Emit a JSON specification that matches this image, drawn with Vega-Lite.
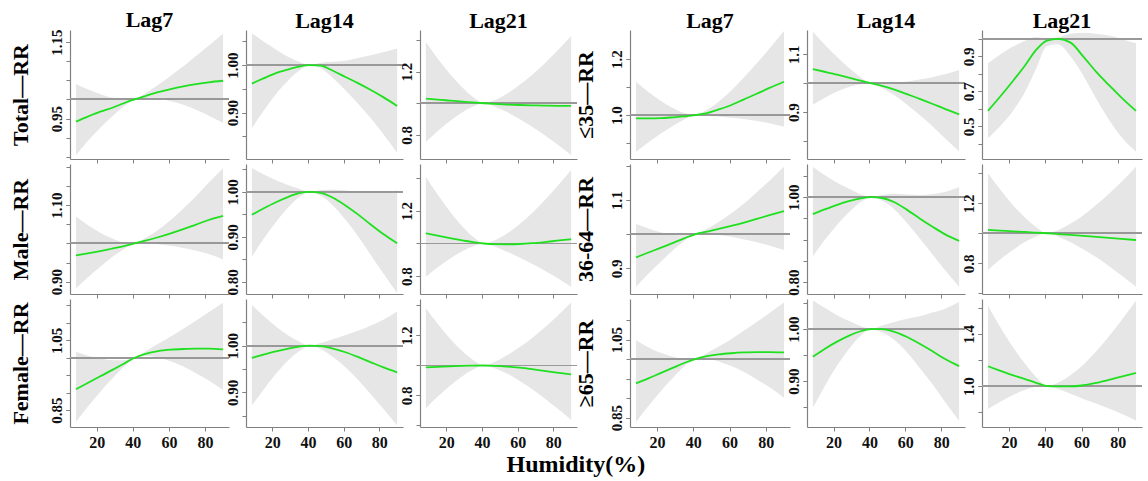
{
"$schema": "https://vega.github.io/schema/vega-lite/v6.json",
"padding": {"left": 8, "top": 9, "right": 0, "bottom": 0},
"data": {"values": [
{"p":1,"x":8.5,"r":0.942,"l":0.854,"h":1.040},{"p":1,"x":15,"r":0.955,"l":0.891,"h":1.027},{"p":1,"x":22,"r":0.968,"l":0.926,"h":1.014},{"p":1,"x":29,"r":0.979,"l":0.957,"h":1.003},{"p":1,"x":35,"r":0.990,"l":0.982,"h":0.999},{"p":1,"x":41,"r":1,"l":1,"h":1},{"p":1,"x":47,"r":1.009,"l":1.003,"h":1.016},{"p":1,"x":54,"r":1.019,"l":1.002,"h":1.038},{"p":1,"x":61,"r":1.027,"l":0.995,"h":1.062},{"p":1,"x":68,"r":1.034,"l":0.986,"h":1.087},{"p":1,"x":75,"r":1.040,"l":0.973,"h":1.114},{"p":1,"x":82,"r":1.045,"l":0.958,"h":1.141},{"p":1,"x":90,"r":1.049,"l":0.938,"h":1.172},
{"p":2,"x":8.5,"r":0.961,"l":0.867,"h":1.067},{"p":2,"x":15,"r":0.972,"l":0.903,"h":1.050},{"p":2,"x":22,"r":0.983,"l":0.939,"h":1.033},{"p":2,"x":29,"r":0.991,"l":0.968,"h":1.017},{"p":2,"x":35,"r":0.997,"l":0.988,"h":1.007},{"p":2,"x":41,"r":1,"l":1,"h":1},{"p":2,"x":47,"r":0.999,"l":0.994,"h":1.005},{"p":2,"x":54,"r":0.988,"l":0.973,"h":1.007},{"p":2,"x":61,"r":0.975,"l":0.947,"h":1.009},{"p":2,"x":68,"r":0.962,"l":0.919,"h":1.015},{"p":2,"x":75,"r":0.948,"l":0.889,"h":1.021},{"p":2,"x":82,"r":0.933,"l":0.856,"h":1.027},{"p":2,"x":90,"r":0.914,"l":0.815,"h":1.035},
{"p":3,"x":8.5,"r":1.030,"l":0.755,"h":1.388},{"p":3,"x":15,"r":1.023,"l":0.822,"h":1.285},{"p":3,"x":22,"r":1.017,"l":0.887,"h":1.186},{"p":3,"x":29,"r":1.011,"l":0.943,"h":1.100},{"p":3,"x":35,"r":1.005,"l":0.979,"h":1.039},{"p":3,"x":41,"r":1,"l":1,"h":1},{"p":3,"x":47,"r":0.996,"l":0.980,"h":1.019},{"p":3,"x":54,"r":0.992,"l":0.944,"h":1.061},{"p":3,"x":61,"r":0.989,"l":0.901,"h":1.115},{"p":3,"x":68,"r":0.987,"l":0.852,"h":1.179},{"p":3,"x":75,"r":0.985,"l":0.799,"h":1.251},{"p":3,"x":82,"r":0.984,"l":0.742,"h":1.330},{"p":3,"x":90,"r":0.983,"l":0.673,"h":1.426},
{"p":4,"x":8.5,"r":0.988,"l":0.869,"h":1.119},{"p":4,"x":15,"r":0.988,"l":0.901,"h":1.084},{"p":4,"x":22,"r":0.989,"l":0.933,"h":1.051},{"p":4,"x":29,"r":0.992,"l":0.962,"h":1.024},{"p":4,"x":35,"r":0.995,"l":0.984,"h":1.007},{"p":4,"x":41,"r":1,"l":1,"h":1},{"p":4,"x":47,"r":1.006,"l":0.997,"h":1.016},{"p":4,"x":54,"r":1.020,"l":0.995,"h":1.048},{"p":4,"x":61,"r":1.036,"l":0.990,"h":1.088},{"p":4,"x":68,"r":1.056,"l":0.986,"h":1.135},{"p":4,"x":75,"r":1.076,"l":0.979,"h":1.185},{"p":4,"x":82,"r":1.097,"l":0.971,"h":1.238},{"p":4,"x":90,"r":1.119,"l":0.958,"h":1.300},
{"p":5,"x":8.5,"r":1.049,"l":0.925,"h":1.179},{"p":5,"x":15,"r":1.040,"l":0.949,"h":1.135},{"p":5,"x":22,"r":1.030,"l":0.971,"h":1.091},{"p":5,"x":29,"r":1.019,"l":0.988,"h":1.051},{"p":5,"x":35,"r":1.009,"l":0.997,"h":1.021},{"p":5,"x":41,"r":1,"l":1,"h":1},{"p":5,"x":47,"r":0.991,"l":0.984,"h":0.999},{"p":5,"x":54,"r":0.978,"l":0.958,"h":1.002},{"p":5,"x":61,"r":0.962,"l":0.925,"h":1.006},{"p":5,"x":68,"r":0.946,"l":0.890,"h":1.013},{"p":5,"x":75,"r":0.929,"l":0.852,"h":1.021},{"p":5,"x":82,"r":0.911,"l":0.810,"h":1.031},{"p":5,"x":90,"r":0.892,"l":0.763,"h":1.046},
{"p":6,"x":8.5,"r":0.589,"l":0.433,"h":0.861},{"p":6,"x":15,"r":0.668,"l":0.500,"h":0.910},{"p":6,"x":22,"r":0.757,"l":0.585,"h":0.955},{"p":6,"x":29,"r":0.850,"l":0.700,"h":0.990},{"p":6,"x":35,"r":0.937,"l":0.830,"h":1.010},{"p":6,"x":41,"r":0.990,"l":0.960,"h":1.005},{"p":6,"x":47,"r":1.0,"l":0.970,"h":1.010},{"p":6,"x":54,"r":0.979,"l":0.900,"h":1.030},{"p":6,"x":61,"r":0.899,"l":0.790,"h":1.035},{"p":6,"x":68,"r":0.813,"l":0.660,"h":1.030},{"p":6,"x":75,"r":0.737,"l":0.540,"h":1.020},{"p":6,"x":82,"r":0.665,"l":0.440,"h":1.000},{"p":6,"x":90,"r":0.589,"l":0.356,"h":0.975},
{"p":7,"x":8.5,"r":0.969,"l":0.883,"h":1.070},{"p":7,"x":15,"r":0.974,"l":0.911,"h":1.048},{"p":7,"x":22,"r":0.980,"l":0.939,"h":1.028},{"p":7,"x":29,"r":0.987,"l":0.966,"h":1.012},{"p":7,"x":35,"r":0.993,"l":0.985,"h":1.002},{"p":7,"x":41,"r":1,"l":1,"h":1},{"p":7,"x":47,"r":1.007,"l":1.001,"h":1.014},{"p":7,"x":54,"r":1.016,"l":0.998,"h":1.035},{"p":7,"x":61,"r":1.026,"l":0.994,"h":1.061},{"p":7,"x":68,"r":1.037,"l":0.988,"h":1.091},{"p":7,"x":75,"r":1.049,"l":0.981,"h":1.123},{"p":7,"x":82,"r":1.061,"l":0.972,"h":1.158},{"p":7,"x":90,"r":1.072,"l":0.958,"h":1.196},
{"p":8,"x":8.5,"r":0.949,"l":0.856,"h":1.053},{"p":8,"x":15,"r":0.963,"l":0.895,"h":1.039},{"p":8,"x":22,"r":0.977,"l":0.933,"h":1.026},{"p":8,"x":29,"r":0.989,"l":0.966,"h":1.015},{"p":8,"x":35,"r":0.997,"l":0.988,"h":1.007},{"p":8,"x":41,"r":1,"l":1,"h":1},{"p":8,"x":47,"r":0.998,"l":0.992,"h":1.004},{"p":8,"x":54,"r":0.987,"l":0.970,"h":1.005},{"p":8,"x":61,"r":0.970,"l":0.938,"h":1.003},{"p":8,"x":68,"r":0.950,"l":0.902,"h":1.001},{"p":8,"x":75,"r":0.928,"l":0.861,"h":0.998},{"p":8,"x":82,"r":0.907,"l":0.820,"h":0.998},{"p":8,"x":90,"r":0.886,"l":0.775,"h":1.003},
{"p":9,"x":8.5,"r":1.063,"l":0.796,"h":1.410},{"p":9,"x":15,"r":1.048,"l":0.853,"h":1.302},{"p":9,"x":22,"r":1.033,"l":0.907,"h":1.197},{"p":9,"x":29,"r":1.019,"l":0.953,"h":1.105},{"p":9,"x":35,"r":1.008,"l":0.983,"h":1.041},{"p":9,"x":41,"r":1,"l":1,"h":1},{"p":9,"x":47,"r":0.996,"l":0.981,"h":1.019},{"p":9,"x":54,"r":0.995,"l":0.950,"h":1.061},{"p":9,"x":61,"r":0.997,"l":0.914,"h":1.118},{"p":9,"x":68,"r":1.002,"l":0.876,"h":1.186},{"p":9,"x":75,"r":1.009,"l":0.834,"h":1.264},{"p":9,"x":82,"r":1.017,"l":0.790,"h":1.349},{"p":9,"x":90,"r":1.026,"l":0.735,"h":1.451},
{"p":10,"x":8.5,"r":0.932,"l":0.846,"h":1.030},{"p":10,"x":15,"r":0.946,"l":0.883,"h":1.018},{"p":10,"x":22,"r":0.960,"l":0.919,"h":1.006},{"p":10,"x":29,"r":0.975,"l":0.954,"h":0.999},{"p":10,"x":35,"r":0.988,"l":0.980,"h":0.997},{"p":10,"x":41,"r":1,"l":1,"h":1},{"p":10,"x":47,"r":1.007,"l":1.001,"h":1.014},{"p":10,"x":54,"r":1.016,"l":0.998,"h":1.036},{"p":10,"x":61,"r":1.025,"l":0.993,"h":1.062},{"p":10,"x":68,"r":1.034,"l":0.985,"h":1.090},{"p":10,"x":75,"r":1.045,"l":0.977,"h":1.123},{"p":10,"x":82,"r":1.056,"l":0.967,"h":1.157},{"p":10,"x":90,"r":1.068,"l":0.954,"h":1.198},
{"p":11,"x":8.5,"r":0.960,"l":0.861,"h":1.071},{"p":11,"x":15,"r":0.971,"l":0.899,"h":1.052},{"p":11,"x":22,"r":0.982,"l":0.935,"h":1.034},{"p":11,"x":29,"r":0.991,"l":0.966,"h":1.019},{"p":11,"x":35,"r":0.997,"l":0.988,"h":1.007},{"p":11,"x":41,"r":1,"l":1,"h":1},{"p":11,"x":47,"r":0.998,"l":0.992,"h":1.005},{"p":11,"x":54,"r":0.988,"l":0.971,"h":1.008},{"p":11,"x":61,"r":0.970,"l":0.939,"h":1.006},{"p":11,"x":68,"r":0.950,"l":0.903,"h":1.005},{"p":11,"x":75,"r":0.931,"l":0.866,"h":1.007},{"p":11,"x":82,"r":0.913,"l":0.829,"h":1.012},{"p":11,"x":90,"r":0.897,"l":0.789,"h":1.024},
{"p":12,"x":8.5,"r":1.022,"l":0.755,"h":1.400},{"p":12,"x":15,"r":1.018,"l":0.823,"h":1.295},{"p":12,"x":22,"r":1.013,"l":0.887,"h":1.191},{"p":12,"x":29,"r":1.009,"l":0.943,"h":1.103},{"p":12,"x":35,"r":1.004,"l":0.979,"h":1.040},{"p":12,"x":41,"r":1,"l":1,"h":1},{"p":12,"x":47,"r":0.995,"l":0.979,"h":1.021},{"p":12,"x":54,"r":0.989,"l":0.940,"h":1.065},{"p":12,"x":61,"r":0.982,"l":0.893,"h":1.121},{"p":12,"x":68,"r":0.976,"l":0.841,"h":1.188},{"p":12,"x":75,"r":0.969,"l":0.782,"h":1.262},{"p":12,"x":82,"r":0.962,"l":0.719,"h":1.343},{"p":12,"x":90,"r":0.955,"l":0.644,"h":1.444},
{"p":13,"x":8.5,"r":0.910,"l":0.817,"h":1.017},{"p":13,"x":15,"r":0.928,"l":0.860,"h":1.006},{"p":13,"x":22,"r":0.947,"l":0.903,"h":0.998},{"p":13,"x":29,"r":0.966,"l":0.943,"h":0.993},{"p":13,"x":35,"r":0.983,"l":0.974,"h":0.993},{"p":13,"x":41,"r":1,"l":1,"h":1},{"p":13,"x":47,"r":1.011,"l":1.005,"h":1.018},{"p":13,"x":54,"r":1.019,"l":1.001,"h":1.040},{"p":13,"x":61,"r":1.023,"l":0.990,"h":1.061},{"p":13,"x":68,"r":1.025,"l":0.975,"h":1.083},{"p":13,"x":75,"r":1.026,"l":0.956,"h":1.106},{"p":13,"x":82,"r":1.026,"l":0.936,"h":1.130},{"p":13,"x":90,"r":1.024,"l":0.908,"h":1.157},
{"p":14,"x":8.5,"r":0.974,"l":0.872,"h":1.087},{"p":14,"x":15,"r":0.981,"l":0.906,"h":1.064},{"p":14,"x":22,"r":0.988,"l":0.940,"h":1.041},{"p":14,"x":29,"r":0.994,"l":0.969,"h":1.022},{"p":14,"x":35,"r":0.998,"l":0.988,"h":1.009},{"p":14,"x":41,"r":1,"l":1,"h":1},{"p":14,"x":47,"r":0.999,"l":0.993,"h":1.006},{"p":14,"x":54,"r":0.994,"l":0.976,"h":1.014},{"p":14,"x":61,"r":0.986,"l":0.954,"h":1.023},{"p":14,"x":68,"r":0.976,"l":0.927,"h":1.032},{"p":14,"x":75,"r":0.965,"l":0.897,"h":1.043},{"p":14,"x":82,"r":0.954,"l":0.866,"h":1.055},{"p":14,"x":90,"r":0.943,"l":0.830,"h":1.073},
{"p":15,"x":8.5,"r":0.988,"l":0.715,"h":1.381},{"p":15,"x":15,"r":0.991,"l":0.791,"h":1.279},{"p":15,"x":22,"r":0.994,"l":0.865,"h":1.179},{"p":15,"x":29,"r":0.997,"l":0.929,"h":1.094},{"p":15,"x":35,"r":0.999,"l":0.973,"h":1.036},{"p":15,"x":41,"r":1,"l":1,"h":1},{"p":15,"x":47,"r":0.998,"l":0.982,"h":1.023},{"p":15,"x":54,"r":0.993,"l":0.946,"h":1.068},{"p":15,"x":61,"r":0.985,"l":0.898,"h":1.121},{"p":15,"x":68,"r":0.975,"l":0.843,"h":1.182},{"p":15,"x":75,"r":0.964,"l":0.782,"h":1.251},{"p":15,"x":82,"r":0.953,"l":0.716,"h":1.326},{"p":15,"x":90,"r":0.941,"l":0.637,"h":1.419},
{"p":16,"x":8.5,"r":0.938,"l":0.839,"h":1.049},{"p":16,"x":15,"r":0.950,"l":0.878,"h":1.031},{"p":16,"x":22,"r":0.964,"l":0.917,"h":1.016},{"p":16,"x":29,"r":0.978,"l":0.953,"h":1.006},{"p":16,"x":35,"r":0.990,"l":0.981,"h":1.000},{"p":16,"x":41,"r":1,"l":1,"h":1},{"p":16,"x":47,"r":1.007,"l":1.001,"h":1.014},{"p":16,"x":54,"r":1.012,"l":0.994,"h":1.032},{"p":16,"x":61,"r":1.015,"l":0.982,"h":1.051},{"p":16,"x":68,"r":1.017,"l":0.967,"h":1.073},{"p":16,"x":75,"r":1.018,"l":0.948,"h":1.095},{"p":16,"x":82,"r":1.018,"l":0.928,"h":1.118},{"p":16,"x":90,"r":1.017,"l":0.901,"h":1.145},
{"p":17,"x":8.5,"r":0.947,"l":0.849,"h":1.055},{"p":17,"x":15,"r":0.962,"l":0.890,"h":1.041},{"p":17,"x":22,"r":0.976,"l":0.930,"h":1.027},{"p":17,"x":29,"r":0.988,"l":0.964,"h":1.015},{"p":17,"x":35,"r":0.996,"l":0.987,"h":1.006},{"p":17,"x":41,"r":1,"l":1,"h":1},{"p":17,"x":47,"r":1.0,"l":0.994,"h":1.007},{"p":17,"x":54,"r":0.995,"l":0.979,"h":1.014},{"p":17,"x":61,"r":0.985,"l":0.955,"h":1.020},{"p":17,"x":68,"r":0.972,"l":0.926,"h":1.025},{"p":17,"x":75,"r":0.958,"l":0.895,"h":1.032},{"p":17,"x":82,"r":0.943,"l":0.861,"h":1.039},{"p":17,"x":90,"r":0.929,"l":0.824,"h":1.052},
{"p":18,"x":8.5,"r":1.152,"l":0.823,"h":1.618},{"p":18,"x":15,"r":1.119,"l":0.878,"h":1.460},{"p":18,"x":22,"r":1.084,"l":0.929,"h":1.304},{"p":18,"x":29,"r":1.053,"l":0.971,"h":1.169},{"p":18,"x":35,"r":1.025,"l":0.994,"h":1.069},{"p":18,"x":41,"r":1,"l":1,"h":1},{"p":18,"x":47,"r":0.997,"l":0.978,"h":1.026},{"p":18,"x":54,"r":0.997,"l":0.940,"h":1.084},{"p":18,"x":61,"r":1.006,"l":0.901,"h":1.164},{"p":18,"x":68,"r":1.024,"l":0.865,"h":1.265},{"p":18,"x":75,"r":1.047,"l":0.827,"h":1.381},{"p":18,"x":82,"r":1.072,"l":0.786,"h":1.506},{"p":18,"x":90,"r":1.100,"l":0.733,"h":1.656}
]},
"title": {"text": "Humidity(%)", "orient": "bottom", "anchor": "middle", "fontSize": 24, "offset": 3},
"columns": 7,
"spacing": {"row": 5, "column": 17},
"bounds": "flush",
"concat": [
  {"width":159,"height":129,"title":{"text":"Lag7"},"transform":[{"filter":"datum.p == 1"}],"resolve":{"axis":{"y":"independent"}},"layer":[
   {"mark":{"type":"area","color":"#e6e6e6","clip":true,"interpolate":"monotone"},"encoding":{"x":{"field":"x","type":"quantitative","title":null,"scale":{"domain":[5.2,93.3],"nice":false,"zero":false},"axis":{"values":[20,40,60,80],"labels":false}},"y":{"field":"l","type":"quantitative","title":"Total—RR","scale":{"domain":[0.844,1.182],"nice":false,"zero":false},"axis":{"orient":"left","titlePadding":17,"values":[0.95,1.15],"format":".2f"}},"y2":{"field":"h"}}},
   {"mark":{"type":"rule","color":"#999999","strokeWidth":1.2},"encoding":{"y":{"datum":1,"axis":null}}},
   {"mark":{"type":"line","color":"#1fe01f","strokeWidth":1.8,"interpolate":"monotone","clip":true},"encoding":{"x":{"field":"x","type":"quantitative","title":null},"y":{"field":"r","type":"quantitative","title":null,"axis":{"orient":"left","values":[0.85,0.9,0.95,1,1.05,1.1,1.15],"labels":false,"domain":false}}}}]},
  {"width":157,"height":129,"title":{"text":"Lag14"},"transform":[{"filter":"datum.p == 2"}],"resolve":{"axis":{"y":"independent"}},"layer":[
   {"mark":{"type":"area","color":"#e6e6e6","clip":true,"interpolate":"monotone"},"encoding":{"x":{"field":"x","type":"quantitative","title":null,"scale":{"domain":[5.2,93.3],"nice":false,"zero":false},"axis":{"values":[20,40,60,80],"labels":false}},"y":{"field":"l","type":"quantitative","title":null,"scale":{"domain":[0.802,1.074],"nice":false,"zero":false},"axis":{"orient":"left","values":[0.9,1],"format":".2f"}},"y2":{"field":"h"}}},
   {"mark":{"type":"rule","color":"#999999","strokeWidth":1.2},"encoding":{"y":{"datum":1,"axis":null}}},
   {"mark":{"type":"line","color":"#1fe01f","strokeWidth":1.8,"interpolate":"monotone","clip":true},"encoding":{"x":{"field":"x","type":"quantitative","title":null},"y":{"field":"r","type":"quantitative","title":null,"axis":{"orient":"left","values":[0.85,0.9,0.95,1,1.05],"labels":false,"domain":false}}}}]},
  {"width":157,"height":129,"title":{"text":"Lag21"},"transform":[{"filter":"datum.p == 3"}],"resolve":{"axis":{"y":"independent"}},"layer":[
   {"mark":{"type":"area","color":"#e6e6e6","clip":true,"interpolate":"monotone"},"encoding":{"x":{"field":"x","type":"quantitative","title":null,"scale":{"domain":[5.2,93.3],"nice":false,"zero":false},"axis":{"values":[20,40,60,80],"labels":false}},"y":{"field":"l","type":"quantitative","title":null,"scale":{"domain":[0.647,1.464],"nice":false,"zero":false},"axis":{"orient":"left","values":[0.8,1.2],"format":".1f"}},"y2":{"field":"h"}}},
   {"mark":{"type":"rule","color":"#999999","strokeWidth":1.2},"encoding":{"y":{"datum":1,"axis":null}}},
   {"mark":{"type":"line","color":"#1fe01f","strokeWidth":1.8,"interpolate":"monotone","clip":true},"encoding":{"x":{"field":"x","type":"quantitative","title":null},"y":{"field":"r","type":"quantitative","title":null,"axis":{"orient":"left","values":[0.8,1,1.2,1.4],"labels":false,"domain":false}}}}]},
  {"width":19,"height":129,"data":{"values":[{"a":1}]},"mark":{"type":"point","opacity":0},"encoding":{}},
  {"width":160,"height":129,"title":{"text":"Lag7"},"transform":[{"filter":"datum.p == 4"}],"resolve":{"axis":{"y":"independent"}},"layer":[
   {"mark":{"type":"area","color":"#e6e6e6","clip":true,"interpolate":"monotone"},"encoding":{"x":{"field":"x","type":"quantitative","title":null,"scale":{"domain":[5.2,93.3],"nice":false,"zero":false},"axis":{"values":[20,40,60,80],"labels":false}},"y":{"field":"l","type":"quantitative","title":"≤35—RR","scale":{"domain":[0.843,1.304],"nice":false,"zero":false},"axis":{"orient":"left","titlePadding":12,"values":[1,1.2],"format":".1f"}},"y2":{"field":"h"}}},
   {"mark":{"type":"rule","color":"#999999","strokeWidth":1.2},"encoding":{"y":{"datum":1,"axis":null}}},
   {"mark":{"type":"line","color":"#1fe01f","strokeWidth":1.8,"interpolate":"monotone","clip":true},"encoding":{"x":{"field":"x","type":"quantitative","title":null},"y":{"field":"r","type":"quantitative","title":null,"axis":{"orient":"left","values":[0.9,1,1.1,1.2],"labels":false,"domain":false}}}}]},
  {"width":158,"height":129,"title":{"text":"Lag14"},"transform":[{"filter":"datum.p == 5"}],"resolve":{"axis":{"y":"independent"}},"layer":[
   {"mark":{"type":"area","color":"#e6e6e6","clip":true,"interpolate":"monotone"},"encoding":{"x":{"field":"x","type":"quantitative","title":null,"scale":{"domain":[5.2,93.3],"nice":false,"zero":false},"axis":{"values":[20,40,60,80],"labels":false}},"y":{"field":"l","type":"quantitative","title":null,"scale":{"domain":[0.737,1.185],"nice":false,"zero":false},"axis":{"orient":"left","values":[0.9,1.1],"format":".1f"}},"y2":{"field":"h"}}},
   {"mark":{"type":"rule","color":"#999999","strokeWidth":1.2},"encoding":{"y":{"datum":1,"axis":null}}},
   {"mark":{"type":"line","color":"#1fe01f","strokeWidth":1.8,"interpolate":"monotone","clip":true},"encoding":{"x":{"field":"x","type":"quantitative","title":null},"y":{"field":"r","type":"quantitative","title":null,"axis":{"orient":"left","values":[0.8,0.9,1,1.1],"labels":false,"domain":false}}}}]},
  {"width":160,"height":129,"title":{"text":"Lag21"},"transform":[{"filter":"datum.p == 6"}],"resolve":{"axis":{"y":"independent"}},"layer":[
   {"mark":{"type":"area","color":"#e6e6e6","clip":true,"interpolate":"monotone"},"encoding":{"x":{"field":"x","type":"quantitative","title":null,"scale":{"domain":[5.2,93.3],"nice":false,"zero":false},"axis":{"values":[20,40,60,80],"labels":false}},"y":{"field":"l","type":"quantitative","title":null,"scale":{"domain":[0.314,1.051],"nice":false,"zero":false},"axis":{"orient":"left","values":[0.5,0.7,0.9],"format":".1f"}},"y2":{"field":"h"}}},
   {"mark":{"type":"rule","color":"#999999","strokeWidth":1.2},"encoding":{"y":{"datum":1,"axis":null}}},
   {"mark":{"type":"line","color":"#1fe01f","strokeWidth":1.8,"interpolate":"monotone","clip":true},"encoding":{"x":{"field":"x","type":"quantitative","title":null},"y":{"field":"r","type":"quantitative","title":null,"axis":{"orient":"left","values":[0.4,0.5,0.6,0.7,0.8,0.9,1],"labels":false,"domain":false}}}}]},
  {"width":159,"height":130,"transform":[{"filter":"datum.p == 7"}],"resolve":{"axis":{"y":"independent"}},"layer":[
   {"mark":{"type":"area","color":"#e6e6e6","clip":true,"interpolate":"monotone"},"encoding":{"x":{"field":"x","type":"quantitative","title":null,"scale":{"domain":[5.2,93.3],"nice":false,"zero":false},"axis":{"values":[20,40,60,80],"labels":false}},"y":{"field":"l","type":"quantitative","title":"Male—RR","scale":{"domain":[0.868,1.207],"nice":false,"zero":false},"axis":{"orient":"left","titlePadding":17,"values":[0.9,1.1],"format":".2f"}},"y2":{"field":"h"}}},
   {"mark":{"type":"rule","color":"#999999","strokeWidth":1.2},"encoding":{"y":{"datum":1,"axis":null}}},
   {"mark":{"type":"line","color":"#1fe01f","strokeWidth":1.8,"interpolate":"monotone","clip":true},"encoding":{"x":{"field":"x","type":"quantitative","title":null},"y":{"field":"r","type":"quantitative","title":null,"axis":{"orient":"left","values":[0.9,0.95,1,1.05,1.1,1.15,1.2],"labels":false,"domain":false}}}}]},
  {"width":157,"height":130,"transform":[{"filter":"datum.p == 8"}],"resolve":{"axis":{"y":"independent"}},"layer":[
   {"mark":{"type":"area","color":"#e6e6e6","clip":true,"interpolate":"monotone"},"encoding":{"x":{"field":"x","type":"quantitative","title":null,"scale":{"domain":[5.2,93.3],"nice":false,"zero":false},"axis":{"values":[20,40,60,80],"labels":false}},"y":{"field":"l","type":"quantitative","title":null,"scale":{"domain":[0.773,1.062],"nice":false,"zero":false},"axis":{"orient":"left","values":[0.8,0.9,1],"format":".2f"}},"y2":{"field":"h"}}},
   {"mark":{"type":"rule","color":"#999999","strokeWidth":1.2},"encoding":{"y":{"datum":1,"axis":null}}},
   {"mark":{"type":"line","color":"#1fe01f","strokeWidth":1.8,"interpolate":"monotone","clip":true},"encoding":{"x":{"field":"x","type":"quantitative","title":null},"y":{"field":"r","type":"quantitative","title":null,"axis":{"orient":"left","values":[0.8,0.85,0.9,0.95,1,1.05],"labels":false,"domain":false}}}}]},
  {"width":157,"height":130,"transform":[{"filter":"datum.p == 9"}],"resolve":{"axis":{"y":"independent"}},"layer":[
   {"mark":{"type":"area","color":"#e6e6e6","clip":true,"interpolate":"monotone"},"encoding":{"x":{"field":"x","type":"quantitative","title":null,"scale":{"domain":[5.2,93.3],"nice":false,"zero":false},"axis":{"values":[20,40,60,80],"labels":false}},"y":{"field":"l","type":"quantitative","title":null,"scale":{"domain":[0.690,1.488],"nice":false,"zero":false},"axis":{"orient":"left","values":[0.8,1.2],"format":".1f"}},"y2":{"field":"h"}}},
   {"mark":{"type":"rule","color":"#999999","strokeWidth":1.2},"encoding":{"y":{"datum":1,"axis":null}}},
   {"mark":{"type":"line","color":"#1fe01f","strokeWidth":1.8,"interpolate":"monotone","clip":true},"encoding":{"x":{"field":"x","type":"quantitative","title":null},"y":{"field":"r","type":"quantitative","title":null,"axis":{"orient":"left","values":[0.8,1,1.2,1.4],"labels":false,"domain":false}}}}]},
  {"width":19,"height":130,"data":{"values":[{"a":1}]},"mark":{"type":"point","opacity":0},"encoding":{}},
  {"width":160,"height":130,"transform":[{"filter":"datum.p == 10"}],"resolve":{"axis":{"y":"independent"}},"layer":[
   {"mark":{"type":"area","color":"#e6e6e6","clip":true,"interpolate":"monotone"},"encoding":{"x":{"field":"x","type":"quantitative","title":null,"scale":{"domain":[5.2,93.3],"nice":false,"zero":false},"axis":{"values":[20,40,60,80],"labels":false}},"y":{"field":"l","type":"quantitative","title":"36-64—RR","scale":{"domain":[0.825,1.206],"nice":false,"zero":false},"axis":{"orient":"left","titlePadding":12,"values":[0.9,1.1],"format":".1f"}},"y2":{"field":"h"}}},
   {"mark":{"type":"rule","color":"#999999","strokeWidth":1.2},"encoding":{"y":{"datum":1,"axis":null}}},
   {"mark":{"type":"line","color":"#1fe01f","strokeWidth":1.8,"interpolate":"monotone","clip":true},"encoding":{"x":{"field":"x","type":"quantitative","title":null},"y":{"field":"r","type":"quantitative","title":null,"axis":{"orient":"left","values":[0.9,1,1.1,1.2],"labels":false,"domain":false}}}}]},
  {"width":158,"height":130,"transform":[{"filter":"datum.p == 11"}],"resolve":{"axis":{"y":"independent"}},"layer":[
   {"mark":{"type":"area","color":"#e6e6e6","clip":true,"interpolate":"monotone"},"encoding":{"x":{"field":"x","type":"quantitative","title":null,"scale":{"domain":[5.2,93.3],"nice":false,"zero":false},"axis":{"values":[20,40,60,80],"labels":false}},"y":{"field":"l","type":"quantitative","title":null,"scale":{"domain":[0.772,1.078],"nice":false,"zero":false},"axis":{"orient":"left","values":[0.8,1],"format":".2f"}},"y2":{"field":"h"}}},
   {"mark":{"type":"rule","color":"#999999","strokeWidth":1.2},"encoding":{"y":{"datum":1,"axis":null}}},
   {"mark":{"type":"line","color":"#1fe01f","strokeWidth":1.8,"interpolate":"monotone","clip":true},"encoding":{"x":{"field":"x","type":"quantitative","title":null},"y":{"field":"r","type":"quantitative","title":null,"axis":{"orient":"left","values":[0.8,0.85,0.9,0.95,1,1.05],"labels":false,"domain":false}}}}]},
  {"width":160,"height":130,"transform":[{"filter":"datum.p == 12"}],"resolve":{"axis":{"y":"independent"}},"layer":[
   {"mark":{"type":"area","color":"#e6e6e6","clip":true,"interpolate":"monotone"},"encoding":{"x":{"field":"x","type":"quantitative","title":null,"scale":{"domain":[5.2,93.3],"nice":false,"zero":false},"axis":{"values":[20,40,60,80],"labels":false}},"y":{"field":"l","type":"quantitative","title":null,"scale":{"domain":[0.595,1.462],"nice":false,"zero":false},"axis":{"orient":"left","values":[0.8,1.2],"format":".1f"}},"y2":{"field":"h"}}},
   {"mark":{"type":"rule","color":"#999999","strokeWidth":1.2},"encoding":{"y":{"datum":1,"axis":null}}},
   {"mark":{"type":"line","color":"#1fe01f","strokeWidth":1.8,"interpolate":"monotone","clip":true},"encoding":{"x":{"field":"x","type":"quantitative","title":null},"y":{"field":"r","type":"quantitative","title":null,"axis":{"orient":"left","values":[0.6,0.8,1,1.2,1.4],"labels":false,"domain":false}}}}]},
  {"width":159,"height":128,"transform":[{"filter":"datum.p == 13"}],"resolve":{"axis":{"y":"independent"}},"layer":[
   {"mark":{"type":"area","color":"#e6e6e6","clip":true,"interpolate":"monotone"},"encoding":{"x":{"field":"x","type":"quantitative","title":null,"scale":{"domain":[5.2,93.3],"nice":false,"zero":false},"axis":{"values":[20,40,60,80]}},"y":{"field":"l","type":"quantitative","title":"Female—RR","scale":{"domain":[0.802,1.168],"nice":false,"zero":false},"axis":{"orient":"left","titlePadding":17,"values":[0.85,1.05],"format":".2f"}},"y2":{"field":"h"}}},
   {"mark":{"type":"rule","color":"#999999","strokeWidth":1.2},"encoding":{"y":{"datum":1,"axis":null}}},
   {"mark":{"type":"line","color":"#1fe01f","strokeWidth":1.8,"interpolate":"monotone","clip":true},"encoding":{"x":{"field":"x","type":"quantitative","title":null},"y":{"field":"r","type":"quantitative","title":null,"axis":{"orient":"left","values":[0.85,0.9,0.95,1,1.05,1.1,1.15],"labels":false,"domain":false}}}}]},
  {"width":157,"height":128,"transform":[{"filter":"datum.p == 14"}],"resolve":{"axis":{"y":"independent"}},"layer":[
   {"mark":{"type":"area","color":"#e6e6e6","clip":true,"interpolate":"monotone"},"encoding":{"x":{"field":"x","type":"quantitative","title":null,"scale":{"domain":[5.2,93.3],"nice":false,"zero":false},"axis":{"values":[20,40,60,80]}},"y":{"field":"l","type":"quantitative","title":null,"scale":{"domain":[0.826,1.100],"nice":false,"zero":false},"axis":{"orient":"left","values":[0.9,1],"format":".2f"}},"y2":{"field":"h"}}},
   {"mark":{"type":"rule","color":"#999999","strokeWidth":1.2},"encoding":{"y":{"datum":1,"axis":null}}},
   {"mark":{"type":"line","color":"#1fe01f","strokeWidth":1.8,"interpolate":"monotone","clip":true},"encoding":{"x":{"field":"x","type":"quantitative","title":null},"y":{"field":"r","type":"quantitative","title":null,"axis":{"orient":"left","values":[0.85,0.9,0.95,1,1.05],"labels":false,"domain":false}}}}]},
  {"width":157,"height":128,"transform":[{"filter":"datum.p == 15"}],"resolve":{"axis":{"y":"independent"}},"layer":[
   {"mark":{"type":"area","color":"#e6e6e6","clip":true,"interpolate":"monotone"},"encoding":{"x":{"field":"x","type":"quantitative","title":null,"scale":{"domain":[5.2,93.3],"nice":false,"zero":false},"axis":{"values":[20,40,60,80]}},"y":{"field":"l","type":"quantitative","title":null,"scale":{"domain":[0.590,1.443],"nice":false,"zero":false},"axis":{"orient":"left","values":[0.8,1.2],"format":".1f"}},"y2":{"field":"h"}}},
   {"mark":{"type":"rule","color":"#999999","strokeWidth":1.2},"encoding":{"y":{"datum":1,"axis":null}}},
   {"mark":{"type":"line","color":"#1fe01f","strokeWidth":1.8,"interpolate":"monotone","clip":true},"encoding":{"x":{"field":"x","type":"quantitative","title":null},"y":{"field":"r","type":"quantitative","title":null,"axis":{"orient":"left","values":[0.6,0.8,1,1.2,1.4],"labels":false,"domain":false}}}}]},
  {"width":19,"height":128,"data":{"values":[{"a":1}]},"mark":{"type":"point","opacity":0},"encoding":{}},
  {"width":160,"height":128,"transform":[{"filter":"datum.p == 16"}],"resolve":{"axis":{"y":"independent"}},"layer":[
   {"mark":{"type":"area","color":"#e6e6e6","clip":true,"interpolate":"monotone"},"encoding":{"x":{"field":"x","type":"quantitative","title":null,"scale":{"domain":[5.2,93.3],"nice":false,"zero":false},"axis":{"values":[20,40,60,80]}},"y":{"field":"l","type":"quantitative","title":"≥65—RR","scale":{"domain":[0.826,1.154],"nice":false,"zero":false},"axis":{"orient":"left","titlePadding":12,"values":[0.85,1.05],"format":".2f"}},"y2":{"field":"h"}}},
   {"mark":{"type":"rule","color":"#999999","strokeWidth":1.2},"encoding":{"y":{"datum":1,"axis":null}}},
   {"mark":{"type":"line","color":"#1fe01f","strokeWidth":1.8,"interpolate":"monotone","clip":true},"encoding":{"x":{"field":"x","type":"quantitative","title":null},"y":{"field":"r","type":"quantitative","title":null,"axis":{"orient":"left","values":[0.85,0.9,0.95,1,1.05,1.1],"labels":false,"domain":false}}}}]},
  {"width":158,"height":128,"transform":[{"filter":"datum.p == 17"}],"resolve":{"axis":{"y":"independent"}},"layer":[
   {"mark":{"type":"area","color":"#e6e6e6","clip":true,"interpolate":"monotone"},"encoding":{"x":{"field":"x","type":"quantitative","title":null,"scale":{"domain":[5.2,93.3],"nice":false,"zero":false},"axis":{"values":[20,40,60,80]}},"y":{"field":"l","type":"quantitative","title":null,"scale":{"domain":[0.812,1.058],"nice":false,"zero":false},"axis":{"orient":"left","values":[0.9,1],"format":".2f"}},"y2":{"field":"h"}}},
   {"mark":{"type":"rule","color":"#999999","strokeWidth":1.2},"encoding":{"y":{"datum":1,"axis":null}}},
   {"mark":{"type":"line","color":"#1fe01f","strokeWidth":1.8,"interpolate":"monotone","clip":true},"encoding":{"x":{"field":"x","type":"quantitative","title":null},"y":{"field":"r","type":"quantitative","title":null,"axis":{"orient":"left","values":[0.85,0.9,0.95,1,1.05],"labels":false,"domain":false}}}}]},
  {"width":160,"height":128,"transform":[{"filter":"datum.p == 18"}],"resolve":{"axis":{"y":"independent"}},"layer":[
   {"mark":{"type":"area","color":"#e6e6e6","clip":true,"interpolate":"monotone"},"encoding":{"x":{"field":"x","type":"quantitative","title":null,"scale":{"domain":[5.2,93.3],"nice":false,"zero":false},"axis":{"values":[20,40,60,80]}},"y":{"field":"l","type":"quantitative","title":null,"scale":{"domain":[0.685,1.669],"nice":false,"zero":false},"axis":{"orient":"left","values":[1,1.4],"format":".1f"}},"y2":{"field":"h"}}},
   {"mark":{"type":"rule","color":"#999999","strokeWidth":1.2},"encoding":{"y":{"datum":1,"axis":null}}},
   {"mark":{"type":"line","color":"#1fe01f","strokeWidth":1.8,"interpolate":"monotone","clip":true},"encoding":{"x":{"field":"x","type":"quantitative","title":null},"y":{"field":"r","type":"quantitative","title":null,"axis":{"orient":"left","values":[0.8,1,1.2,1.4,1.6],"labels":false,"domain":false}}}}]}
],
"config": {
 "view": {"stroke": null},
 "font": "Liberation Serif",
 "axis": {"grid": false, "domainColor": "#808080", "tickColor": "#808080", "tickSize": 4, "domainWidth": 1.2, "labelFont": "Liberation Serif", "labelFontWeight": "bold", "labelColor": "#111111", "labelOverlap": false, "labelFlush": false, "titleFont": "Liberation Serif", "titleFontWeight": "bold", "titleColor": "#000000"},
 "axisX": {"labelFontSize": 16, "labelPadding": 3},
 "axisY": {"labelFontSize": 15, "labelAngle": 270, "labelAlign": "center", "labelBaseline": "bottom", "labelPadding": 2, "titleFontSize": 22, "titlePadding": 12},
 "title": {"font": "Liberation Serif", "fontSize": 22, "fontWeight": "bold", "color": "#000000", "offset": -3}
}
}
